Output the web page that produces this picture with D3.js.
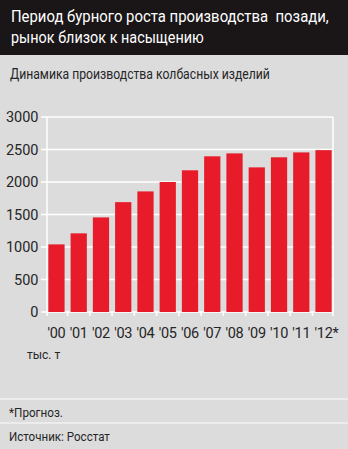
<!DOCTYPE html>
<html>
<head>
<meta charset="utf-8">
<script src="https://cdn.jsdelivr.net/npm/d3@7"></script>
<style>
  html, body { margin: 0; padding: 0; background: #dcdcdd; }
  svg { display: block; }
  text { font-family: Roboto, "Liberation Sans", sans-serif; }
</style>
</head>
<body>
<svg id="chart" width="348" height="449"></svg>
<script>
// Sausage production, thousand tonnes
const years = ["'00", "'01", "'02", "'03", "'04", "'05", "'06", "'07", "'08", "'09", "'10", "'11", "'12*"];
const production = [1040, 1210, 1455, 1690, 1855, 2000, 2180, 2395, 2440, 2225, 2380, 2455, 2490];
const yTicks = [0, 500, 1000, 1500, 2000, 2500, 3000];

const titleLines = ["Период бурного роста производства  позади,", "рынок близок к насыщению"];
const subtitle = "Динамика производства колбасных изделий";
const unitLabel = "тыс. т";
const footnote = "*Прогноз.";
const source = "Источник: Росстат";

const W = 348, H = 449;
const ink = "#262626";
const svg = d3.select("#chart");

// Draws a line of text condensed horizontally to a given width
function narrowText(x0, y0, str, size, width, fill) {
  const t = svg.append("text")
    .attr("x", 0).attr("y", 0)
    .attr("font-size", size).attr("fill", fill)
    .style("white-space", "pre")
    .text(str);
  const natural = t.node().getComputedTextLength();
  const k = Math.min(1, width / natural);
  t.attr("transform", `translate(${x0},${y0}) scale(${k},1)`);
  return t;
}

svg.append("rect").attr("width", W).attr("height", H).attr("fill", "#dcdcdd");

// Header
svg.append("rect").attr("width", W).attr("height", 55).attr("fill", "#1a1617");
narrowText(11, 22, titleLines[0], 17, 318, "#ffffff");
narrowText(11, 43, titleLines[1], 17, 193, "#ffffff");

narrowText(10, 78.5, subtitle, 14, 260, ink);

// Plot area
const plotLeft = 47, plotRight = 333, plotTop = 117, plotBottom = 312;
const x = d3.scaleBand().domain(years).range([plotLeft, plotRight]).paddingInner(0.27).paddingOuter(0.06);
const y = d3.scaleLinear().domain([0, 3000]).range([plotBottom, plotTop]);

// Gridlines
svg.append("g").selectAll("line").data(yTicks).join("line")
  .attr("x1", plotLeft - 6).attr("x2", plotRight)
  .attr("y1", d => y(d)).attr("y2", d => y(d))
  .attr("stroke", "#ffffff").attr("stroke-width", 1.5);

// Frame verticals
[plotLeft, plotRight].forEach(px => {
  svg.append("line").attr("x1", px).attr("x2", px).attr("y1", plotTop).attr("y2", plotBottom + 4)
    .attr("stroke", "#ffffff").attr("stroke-width", 1.5);
});

// Ticks between categories
const step = x.step();
const boundaries = years.slice(1).map(d => x(d) - (step * x.paddingInner()) / 2);
svg.append("g").selectAll("line").data(boundaries).join("line")
  .attr("x1", d => d).attr("x2", d => d)
  .attr("y1", plotBottom).attr("y2", plotBottom + 4)
  .attr("stroke", "#ffffff").attr("stroke-width", 1.5);

// Bars
svg.append("g").selectAll("rect").data(production).join("rect")
  .attr("x", (d, i) => x(years[i]))
  .attr("width", x.bandwidth())
  .attr("y", d => y(d))
  .attr("height", d => plotBottom - y(d))
  .attr("fill", "#e71b2a");

// Y-axis labels
svg.append("g").selectAll("text").data(yTicks).join("text")
  .attr("x", 38.5).attr("y", d => y(d) + 5.2)
  .attr("text-anchor", "end")
  .attr("fill", ink).attr("font-size", 14.5)
  .text(d => d);

// X-axis labels
svg.append("g").selectAll("text").data(years).join("text")
  .attr("x", d => x(d) + x.bandwidth() / 2 + (d.endsWith("*") ? 3 : 0))
  .attr("y", 338)
  .attr("text-anchor", "middle")
  .attr("fill", ink).attr("font-size", 14.5)
  .attr("letter-spacing", -0.3)
  .text(d => d);

svg.append("text").attr("x", 27).attr("y", 359)
  .attr("fill", ink).attr("font-size", 12).text(unitLabel);

// Footer
svg.append("line").attr("x1", 0).attr("x2", W).attr("y1", 399).attr("y2", 399)
  .attr("stroke", "#f2f2f2").attr("stroke-width", 1.5);
narrowText(9, 417, footnote, 13, 54, ink);
svg.append("line").attr("x1", 0).attr("x2", W).attr("y1", 423).attr("y2", 423)
  .attr("stroke", "#f2f2f2").attr("stroke-width", 1.5);
narrowText(9, 441, source, 13, 101, ink);
</script>
</body>
</html>
